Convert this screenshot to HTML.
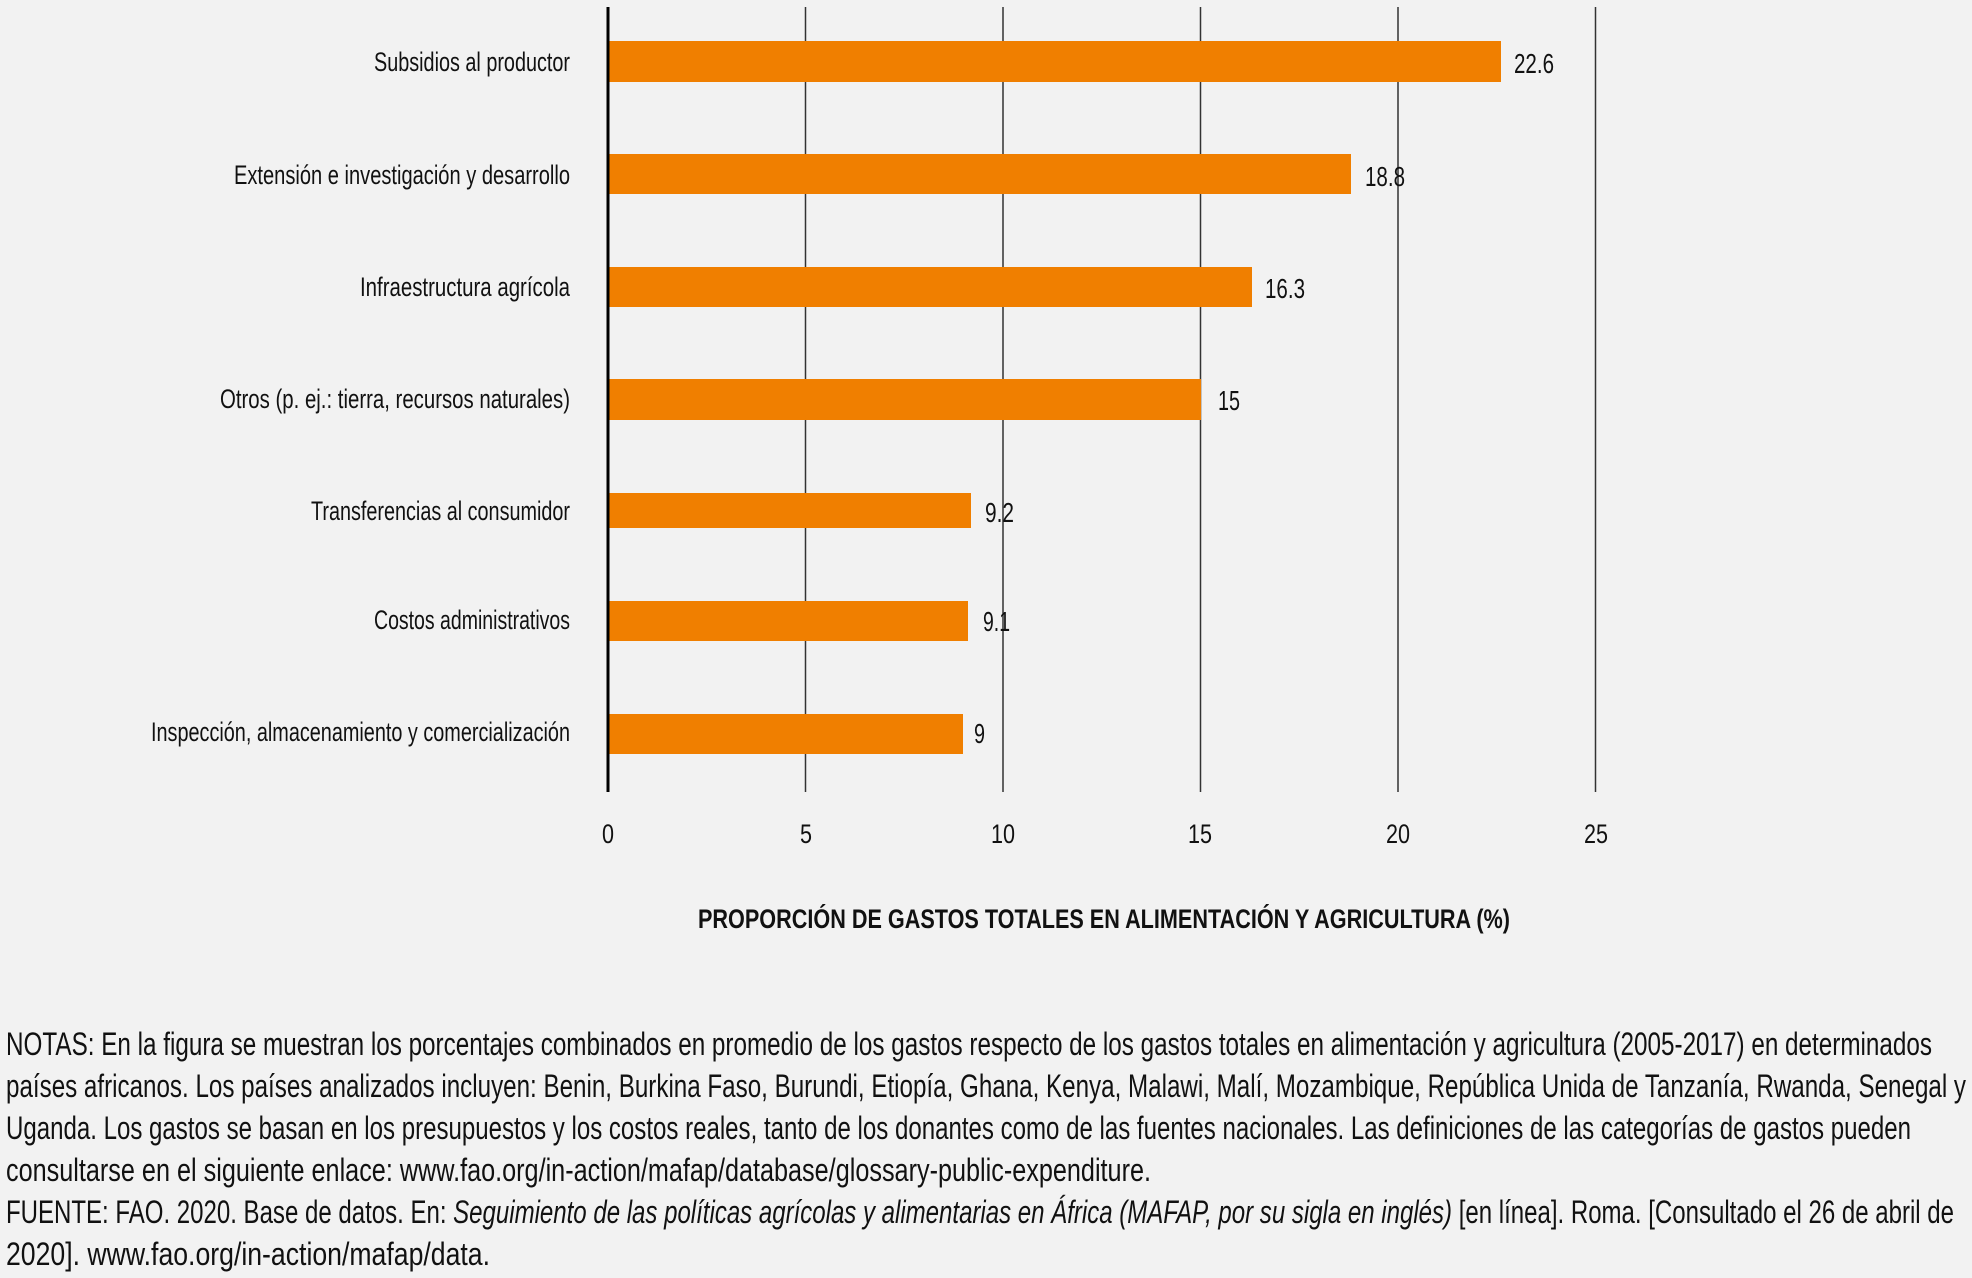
<!DOCTYPE html>
<html><head><meta charset="utf-8"><style>
html,body{margin:0;padding:0;background:#f2f2f2;}
svg{display:block;}
text{font-family:"Liberation Sans",sans-serif;fill:#111;}
</style></head><body>
<svg width="1972" height="1278" viewBox="0 0 1972 1278" xmlns="http://www.w3.org/2000/svg">
<rect width="1972" height="1278" fill="#f2f2f2"/>
<g stroke="#333" stroke-width="1.5">
<line x1="805.5" y1="7" x2="805.5" y2="792"/>
<line x1="1003" y1="7" x2="1003" y2="792"/>
<line x1="1200.5" y1="7" x2="1200.5" y2="792"/>
<line x1="1398" y1="7" x2="1398" y2="792"/>
<line x1="1595.5" y1="7" x2="1595.5" y2="792"/>
</g>
<g fill="#f07f00">
<rect x="608" y="41" width="893" height="41"/>
<rect x="608" y="154" width="743" height="40"/>
<rect x="608" y="267" width="644" height="40"/>
<rect x="608" y="379" width="593" height="41"/>
<rect x="608" y="493" width="363" height="35"/>
<rect x="608" y="601" width="360" height="40"/>
<rect x="608" y="714" width="355" height="40"/>
</g>
<line x1="608" y1="7" x2="608" y2="792" stroke="#000" stroke-width="3"/>
<g font-size="27" text-anchor="end">
<text x="570" y="71" textLength="196" lengthAdjust="spacingAndGlyphs">Subsidios al productor</text>
<text x="570" y="184" textLength="336" lengthAdjust="spacingAndGlyphs">Extensión e investigación y desarrollo</text>
<text x="570" y="296" textLength="210" lengthAdjust="spacingAndGlyphs">Infraestructura agrícola</text>
<text x="570" y="408" textLength="350" lengthAdjust="spacingAndGlyphs">Otros (p. ej.: tierra, recursos naturales)</text>
<text x="570" y="520" textLength="259" lengthAdjust="spacingAndGlyphs">Transferencias al consumidor</text>
<text x="570" y="629" textLength="196" lengthAdjust="spacingAndGlyphs">Costos administrativos</text>
<text x="570" y="741" textLength="419" lengthAdjust="spacingAndGlyphs">Inspección, almacenamiento y comercialización</text>
</g>
<g font-size="28">
<text x="1514" y="73" textLength="40" lengthAdjust="spacingAndGlyphs">22.6</text>
<text x="1365" y="186" textLength="40" lengthAdjust="spacingAndGlyphs">18.8</text>
<text x="1265" y="298" textLength="40" lengthAdjust="spacingAndGlyphs">16.3</text>
<text x="1218" y="410" textLength="22" lengthAdjust="spacingAndGlyphs">15</text>
<text x="985" y="522" textLength="29" lengthAdjust="spacingAndGlyphs">9.2</text>
<text x="983" y="631" textLength="27" lengthAdjust="spacingAndGlyphs">9.1</text>
<text x="974" y="743" textLength="11" lengthAdjust="spacingAndGlyphs">9</text>
</g>
<g font-size="27" text-anchor="middle">
<text x="608" y="843" textLength="12" lengthAdjust="spacingAndGlyphs">0</text>
<text x="806" y="843" textLength="12" lengthAdjust="spacingAndGlyphs">5</text>
<text x="1003" y="843" textLength="24" lengthAdjust="spacingAndGlyphs">10</text>
<text x="1200" y="843" textLength="24" lengthAdjust="spacingAndGlyphs">15</text>
<text x="1398" y="843" textLength="24" lengthAdjust="spacingAndGlyphs">20</text>
<text x="1596" y="843" textLength="24" lengthAdjust="spacingAndGlyphs">25</text>
</g>
<text x="1104" y="928" font-size="27" font-weight="bold" text-anchor="middle" textLength="812" lengthAdjust="spacingAndGlyphs">PROPORCIÓN DE GASTOS TOTALES EN ALIMENTACIÓN Y AGRICULTURA (%)</text>
<g font-size="32">
<text x="6" y="1055" textLength="1926" lengthAdjust="spacingAndGlyphs">NOTAS: En la figura se muestran los porcentajes combinados en promedio de los gastos respecto de los gastos totales en alimentación y agricultura (2005-2017) en determinados</text>
<text x="6" y="1097" textLength="1960" lengthAdjust="spacingAndGlyphs">países africanos. Los países analizados incluyen: Benin, Burkina Faso, Burundi, Etiopía, Ghana, Kenya, Malawi, Malí, Mozambique, República Unida de Tanzanía, Rwanda, Senegal y</text>
<text x="6" y="1139" textLength="1905" lengthAdjust="spacingAndGlyphs">Uganda. Los gastos se basan en los presupuestos y los costos reales, tanto de los donantes como de las fuentes nacionales. Las definiciones de las categorías de gastos pueden</text>
<text x="6" y="1181" textLength="1145" lengthAdjust="spacingAndGlyphs">consultarse en el siguiente enlace: www.fao.org/in-action/mafap/database/glossary-public-expenditure.</text>
<text x="6" y="1223" textLength="1948" lengthAdjust="spacingAndGlyphs">FUENTE: FAO. 2020. Base de datos. En: <tspan font-style="italic">Seguimiento de las políticas agrícolas y alimentarias en África (MAFAP, por su sigla en inglés)</tspan> [en línea]. Roma. [Consultado el 26 de abril de</text>
<text x="6" y="1265" textLength="484" lengthAdjust="spacingAndGlyphs">2020]. www.fao.org/in-action/mafap/data.</text>
</g>
</svg>
</body></html>
